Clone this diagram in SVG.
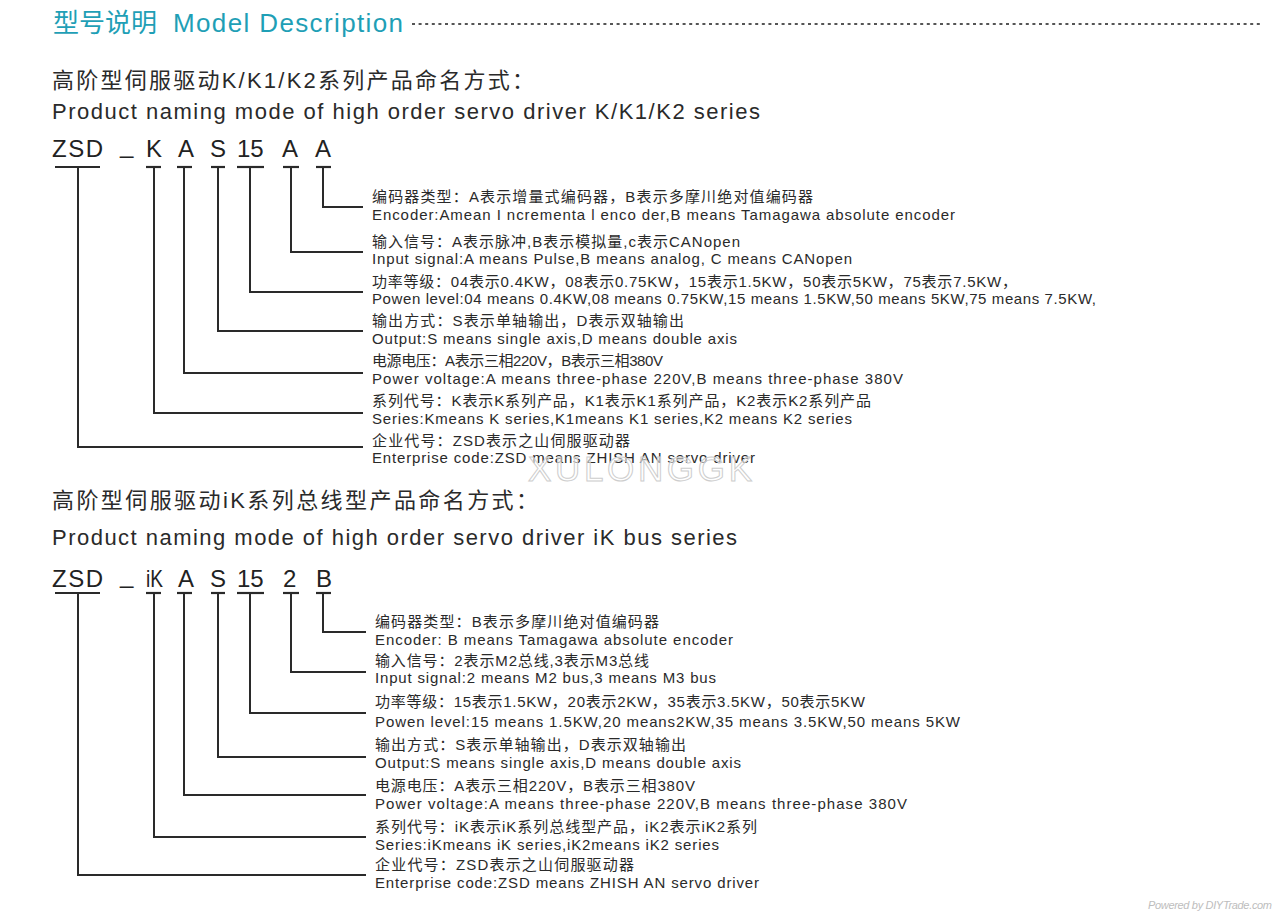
<svg xmlns="http://www.w3.org/2000/svg" width="1282" height="919" viewBox="0 0 1282 919">
<style>
text{font-family:"Liberation Sans","Noto Sans CJK SC",sans-serif;fill:#2a2a2a}
.hd{font-size:26px;fill:#1f9fb6}
.tcn{font-size:22px;fill:#2a2a2a}
.ten{font-size:22px;fill:#2a2a2a}
.code{font-size:24px;fill:#222}
.cn{font-size:15px}
.en{font-size:15px}
.ln{stroke:#2a2a2a;stroke-width:2;fill:none}
.ul{stroke:#2a2a2a;stroke-width:2.2}
.wm{font-size:35px;fill:#fff;fill-opacity:0.55;stroke:#cdcdcd;stroke-width:1}
.pw{font-size:11px;font-style:italic;fill:#bdbdbd}
</style>
<rect width="1282" height="919" fill="#fff"/>

<g id="header">
<text class="hd" x="53" y="32">型号说明</text>
<text class="hd" x="173" y="32" textLength="230">Model Description</text>
<line x1="412" y1="24" x2="1260" y2="24" stroke="#555" stroke-width="2" stroke-dasharray="3 3.6"/>
</g>

<!-- Section K -->
<g id="title-k">
<text class="tcn" x="52" y="88" textLength="482">高阶型伺服驱动K/K1/K2系列产品命名方式：</text>
<text class="ten" x="52" y="119" textLength="708">Product naming mode of high order servo driver K/K1/K2 series</text>
</g>

<g id="code-k">
<g id="k-zsd"><text class="code" x="52" y="157" textLength="51">ZSD</text><line class="ul" x1="55" y1="167" x2="100" y2="167"/></g>
<g id="k-sep"><text class="code" x="120" y="153">_</text></g>
<g id="k-series"><text class="code" x="146" y="157">K</text><line class="ul" x1="146" y1="167" x2="161" y2="167"/></g>
<g id="k-voltage"><text class="code" x="178" y="157">A</text><line class="ul" x1="177" y1="167" x2="192" y2="167"/></g>
<g id="k-output"><text class="code" x="210" y="157">S</text><line class="ul" x1="211" y1="167" x2="225" y2="167"/></g>
<g id="k-power"><text class="code" x="237" y="157">15</text><line class="ul" x1="237" y1="167" x2="264" y2="167"/></g>
<g id="k-input"><text class="code" x="282" y="157">A</text><line class="ul" x1="283" y1="167" x2="299" y2="167"/></g>
<g id="k-encoder"><text class="code" x="315" y="157">A</text><line class="ul" x1="316" y1="167" x2="331" y2="167"/></g>
</g>

<g id="k-desc-encoder">
<text class="cn" x="372" y="202" textLength="441">编码器类型：A表示增量式编码器，B表示多摩川绝对值编码器</text>
<text class="en" x="372" y="220" textLength="583">Encoder:Amean I ncrementa l enco der,B means Tamagawa absolute encoder</text>
</g>
<g id="k-desc-input">
<text class="cn" x="372" y="247" textLength="368">输入信号：A表示脉冲,B表示模拟量,c表示CANopen</text>
<text class="en" x="372" y="264" textLength="480">Input signal:A means Pulse,B means analog, C means CANopen</text>
</g>
<g id="k-desc-power">
<text class="cn" x="372" y="287" textLength="645">功率等级：04表示0.4KW，08表示0.75KW，15表示1.5KW，50表示5KW，75表示7.5KW，</text>
<text class="en" x="372" y="304" textLength="724">Powen level:04 means 0.4KW,08 means 0.75KW,15 means 1.5KW,50 means 5KW,75 means 7.5KW,</text>
</g>
<g id="k-desc-output">
<text class="cn" x="372" y="326" textLength="312">输出方式：S表示单轴输出，D表示双轴输出</text>
<text class="en" x="372" y="344" textLength="365">Output:S means single axis,D means double axis</text>
</g>
<g id="k-desc-voltage">
<text class="cn" x="372" y="366" textLength="291">电源电压：A表示三相220V，B表示三相380V</text>
<text class="en" x="372" y="384" textLength="531">Power voltage:A means three-phase 220V,B means three-phase 380V</text>
</g>
<g id="k-desc-series">
<text class="cn" x="372" y="406" textLength="499">系列代号：K表示K系列产品，K1表示K1系列产品，K2表示K2系列产品</text>
<text class="en" x="372" y="424" textLength="480">Series:Kmeans K series,K1means K1 series,K2 means K2 series</text>
</g>
<g id="k-desc-enterprise">
<text class="cn" x="372" y="446" textLength="258">企业代号：ZSD表示之山伺服驱动器</text>
<text class="en" x="372" y="463" textLength="383">Enterprise code:ZSD means ZHISH AN servo driver</text>
</g>

<!-- Section iK -->
<g id="title-ik">
<text class="tcn" x="52" y="508" textLength="486">高阶型伺服驱动iK系列总线型产品命名方式：</text>
<text class="ten" x="52" y="545" textLength="685">Product naming mode of high order servo driver iK bus series</text>
</g>

<g id="code-ik">
<g id="ik-zsd"><text class="code" x="52" y="587" textLength="51">ZSD</text><line class="ul" x1="55" y1="593" x2="100" y2="593"/></g>
<g id="ik-sep"><text class="code" x="120" y="583">_</text></g>
<g id="ik-series"><text class="code" x="146" y="587" textLength="17" lengthAdjust="spacingAndGlyphs">iK</text><line class="ul" x1="146" y1="593" x2="161" y2="593"/></g>
<g id="ik-voltage"><text class="code" x="178" y="587">A</text><line class="ul" x1="177" y1="593" x2="192" y2="593"/></g>
<g id="ik-output"><text class="code" x="210" y="587">S</text><line class="ul" x1="211" y1="593" x2="225" y2="593"/></g>
<g id="ik-power"><text class="code" x="237" y="587">15</text><line class="ul" x1="237" y1="593" x2="264" y2="593"/></g>
<g id="ik-input"><text class="code" x="283" y="587">2</text><line class="ul" x1="283" y1="593" x2="299" y2="593"/></g>
<g id="ik-encoder"><text class="code" x="316" y="587">B</text><line class="ul" x1="316" y1="593" x2="331" y2="593"/></g>
</g>

<g id="ik-desc-encoder">
<text class="cn" x="375" y="627" textLength="284">编码器类型：B表示多摩川绝对值编码器</text>
<text class="en" x="375" y="645" textLength="358">Encoder: B means Tamagawa absolute encoder</text>
</g>
<g id="ik-desc-input">
<text class="cn" x="375" y="666" textLength="274">输入信号：2表示M2总线,3表示M3总线</text>
<text class="en" x="375" y="683" textLength="341">Input signal:2 means M2 bus,3 means M3 bus</text>
</g>
<g id="ik-desc-power">
<text class="cn" x="375" y="707" textLength="490">功率等级：15表示1.5KW，20表示2KW，35表示3.5KW，50表示5KW</text>
<text class="en" x="375" y="727" textLength="585">Powen level:15 means 1.5KW,20 means2KW,35 means 3.5KW,50 means 5KW</text>
</g>
<g id="ik-desc-output">
<text class="cn" x="375" y="750" textLength="311">输出方式：S表示单轴输出，D表示双轴输出</text>
<text class="en" x="375" y="768" textLength="366">Output:S means single axis,D means double axis</text>
</g>
<g id="ik-desc-voltage">
<text class="cn" x="375" y="791" textLength="320">电源电压：A表示三相220V，B表示三相380V</text>
<text class="en" x="375" y="809" textLength="532">Power voltage:A means three-phase 220V,B means three-phase 380V</text>
</g>
<g id="ik-desc-series">
<text class="cn" x="375" y="832" textLength="382">系列代号：iK表示iK系列总线型产品，iK2表示iK2系列</text>
<text class="en" x="375" y="850" textLength="344">Series:iKmeans iK series,iK2means iK2 series</text>
</g>
<g id="ik-desc-enterprise">
<text class="cn" x="375" y="870" textLength="259">企业代号：ZSD表示之山伺服驱动器</text>
<text class="en" x="375" y="888" textLength="384">Enterprise code:ZSD means ZHISH AN servo driver</text>
</g>

<g id="connectors">
<path class="ln" d="M323 167V207H363"/>
<path class="ln" d="M291 167V252H363"/>
<path class="ln" d="M250 167V292H363"/>
<path class="ln" d="M218 167V331H363"/>
<path class="ln" d="M184 167V373H363"/>
<path class="ln" d="M154 167V413H363"/>
<path class="ln" d="M78 167V447H363"/>
<path class="ln" d="M323 593V632H366"/>
<path class="ln" d="M291 593V672H366"/>
<path class="ln" d="M250 593V713H366"/>
<path class="ln" d="M218 593V757H366"/>
<path class="ln" d="M184 593V795H366"/>
<path class="ln" d="M154 593V837H366"/>
<path class="ln" d="M78 593V875H366"/>
</g>

<text class="wm" x="528" y="481" textLength="224">XULONGGK</text>
<text class="pw" x="1148" y="909" textLength="124">Powered by DIYTrade.com</text>
</svg>
